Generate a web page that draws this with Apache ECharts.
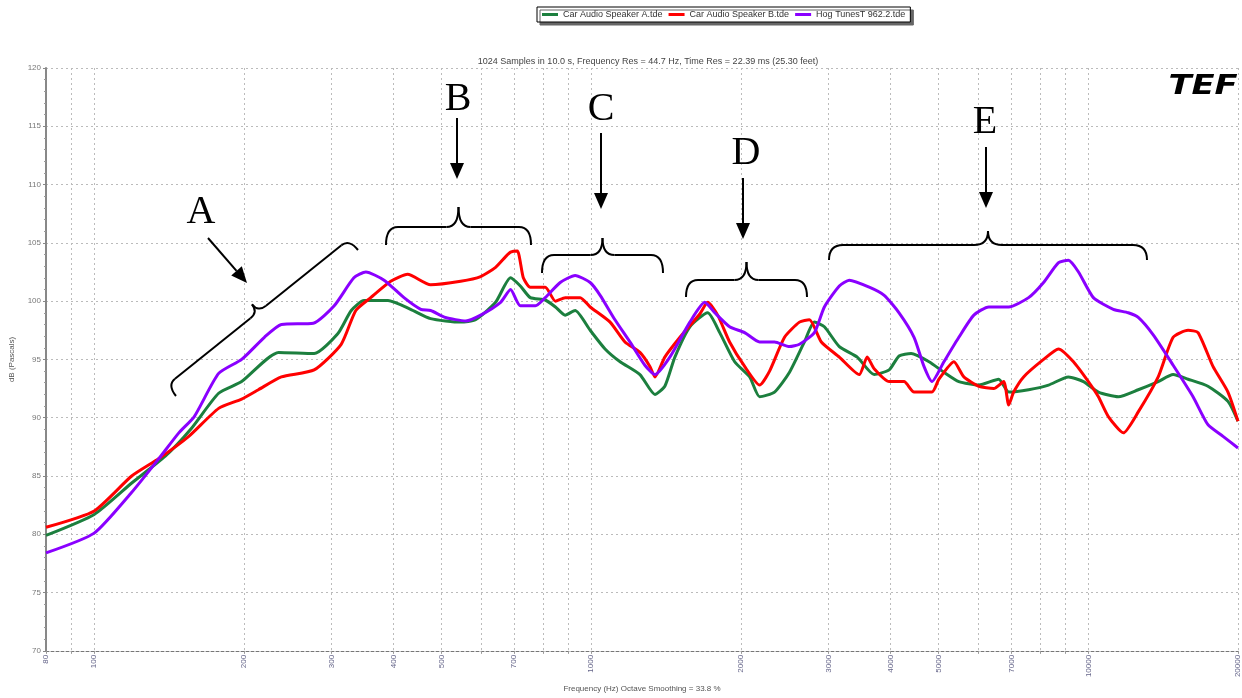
<!DOCTYPE html>
<html>
<head>
<meta charset="utf-8">
<script src="https://cdn.jsdelivr.net/npm/echarts@6/dist/echarts.min.js"></script>
<style>
  html, body { margin: 0; padding: 0; background: #fff; }
  #chart { width: 1242px; height: 698px; }
</style>
</head>
<body>
<div id="chart"></div>
<script>
// frequency (Hz), level (dB)
var speakerA = [[80,79.9],[100,81.7],[119,84.4],[139,86.7],[157,89.1],[178,92.1],[198,93.1],[235,95.6],[277,95.5],[309,97.2],[329,99.2],[349,100.05],[390,100.05],[433,99.3],[475,98.5],[546,98.2],[585,98.4],[642,99.9],[688,102.0],[720,101.3],[754,100.3],[808,100.1],[847,99.5],[886,98.8],[928,99.2],[995,97.5],[1066,95.9],[1143,94.8],[1253,93.7],[1343,92.0],[1406,92.7],[1473,95.2],[1579,97.8],[1715,99.0],[1813,97.3],[1943,94.8],[2083,93.5],[2181,91.8],[2337,92.2],[2505,93.9],[2684,96.5],[2811,98.2],[2944,97.8],[3155,96.1],[3428,95.2],[3708,93.7],[3974,94.1],[4161,95.3],[4400,95.5],[4780,94.8],[5122,93.9],[5489,93.1],[6019,92.8],[6601,93.3],[6914,92.2],[7582,92.4],[8315,92.8],[9120,93.5],[9774,93.1],[10476,92.2],[11490,91.8],[12600,92.4],[13820,93.1],[14810,93.7],[15870,93.3],[17400,92.7],[19090,91.4],[20000,89.7]];
var speakerB = [[80,80.6],[100,82.0],[119,85.0],[135,86.5],[155,88.4],[178,90.8],[198,91.6],[214,92.4],[238,93.5],[277,94.1],[314,96.3],[336,99.2],[360,100.3],[395,101.7],[427,102.3],[475,101.4],[546,101.7],[599,102.1],[642,102.9],[672,103.8],[688,104.2],[710,104.3],[730,102.0],[754,101.2],[808,101.2],[847,100.0],[886,100.3],[950,100.3],[995,99.5],[1091,98.2],[1169,96.5],[1253,95.6],[1312,94.4],[1343,93.5],[1406,95.2],[1508,96.9],[1653,98.9],[1715,99.9],[1796,98.8],[1898,96.5],[2035,94.4],[2181,92.8],[2284,94.0],[2448,96.9],[2623,98.2],[2747,98.4],[2903,96.5],[3155,95.2],[3459,93.7],[3590,95.2],[3708,94.2],[3974,93.1],[4258,93.1],[4460,92.2],[4846,92.2],[5005,93.3],[5364,94.8],[5617,93.5],[6019,92.7],[6451,92.5],[6755,93.1],[6914,91.1],[7075,92.2],[7409,93.5],[8126,95.0],[8710,95.9],[9333,94.8],[10000,93.1],[10476,91.8],[10970,90.1],[11758,88.7],[12600,90.5],[13820,93.5],[14810,96.9],[15870,97.5],[16620,97.3],[17810,94.4],[19090,92.2],[20000,89.7]];
var hogTunes = [[80,78.4],[100,80.1],[119,83.6],[135,86.5],[148,88.7],[159,90.1],[178,93.8],[198,95.0],[220,96.9],[238,98.0],[276,98.1],[304,99.6],[333,102.0],[352,102.5],[383,101.8],[420,100.3],[454,99.3],[475,99.2],[509,98.6],[559,98.3],[599,98.8],[657,99.9],[688,101.0],[720,99.6],[772,99.6],[808,100.3],[866,101.6],[928,102.2],[995,101.6],[1042,100.5],[1116,98.4],[1196,96.5],[1282,94.5],[1343,93.7],[1439,95.2],[1579,98.2],[1692,99.9],[1772,99.0],[1898,97.8],[2035,97.3],[2181,96.5],[2337,96.5],[2505,96.1],[2623,96.3],[2811,97.3],[2944,99.5],[3155,101.3],[3304,101.8],[3624,101.2],[3884,100.5],[4161,99.0],[4460,96.9],[4670,94.4],[4846,93.1],[5122,94.8],[5489,96.9],[5883,98.8],[6305,99.5],[6914,99.5],[7582,100.3],[8126,101.6],[8710,103.3],[9120,103.5],[9553,102.5],[10235,100.3],[11226,99.3],[12033,99.0],[12600,98.6],[13505,97.1],[14810,94.5],[16240,91.8],[17400,89.4],[18660,88.4],[20000,87.4]];

var seriesNames = ['Car Audio Speaker A.tde', 'Car Audio Speaker B.tde', 'Hog TunesT 962.2.tde'];
var gridFreqs = [80,90,100,200,300,400,500,600,700,800,900,1000,2000,3000,4000,5000,6000,7000,8000,9000,10000,20000];
var labelFreqs = [80,100,200,300,400,500,700,1000,2000,3000,4000,5000,7000,10000,20000];
var letters = ['A','B','C','D','E'];

var ec = echarts.init(document.getElementById('chart'));

// curly brace between two points, tip on the left-hand normal
function brace(x1, y1, x2, y2, h, d, r) {
  var L = Math.hypot(x2 - x1, y2 - y1);
  var ux = (x2 - x1) / L, uy = (y2 - y1) / L;
  var nx = uy, ny = -ux;
  var P = function (s, t) { return [x1 + ux * s + nx * t, y1 + uy * s + ny * t]; };
  var st = { stroke: '#000', fill: null, lineWidth: 2 };
  function q(a, c, b) {
    return { type: 'bezierCurve', shape: { x1: a[0], y1: a[1], cpx1: c[0], cpy1: c[1], x2: b[0], y2: b[1] }, style: st, z: 100 };
  }
  function ln(a, b) {
    return { type: 'line', shape: { x1: a[0], y1: a[1], x2: b[0], y2: b[1] }, style: st, z: 100 };
  }
  var m = L / 2;
  return [
    q(P(0, 0), P(0, h), P(r, h)),
    ln(P(r, h), P(m - r, h)),
    q(P(m - r, h), P(m, h), P(m, d)),
    q(P(m, d), P(m, h), P(m + r, h)),
    ln(P(m + r, h), P(L - r, h)),
    q(P(L - r, h), P(L, h), P(L, 0))
  ];
}

function arrow(x1, y1, x2, y2) {
  var L = Math.hypot(x2 - x1, y2 - y1);
  var ux = (x2 - x1) / L, uy = (y2 - y1) / L;
  var hl = 16, hw = 7;
  var bx = x2 - ux * hl, by = y2 - uy * hl;
  return [
    { type: 'line', shape: { x1: x1, y1: y1, x2: bx, y2: by }, style: { stroke: '#000', lineWidth: 2 }, z: 100 },
    { type: 'polygon', shape: { points: [[x2, y2], [bx + uy * hw, by - ux * hw], [bx - uy * hw, by + ux * hw]] }, style: { fill: '#000' }, z: 100 }
  ];
}

var letterPos = [[201, 212], [458, 99], [601, 109], [746, 153], [985, 122]];
var graphics = [];
letters.forEach(function (t, i) {
  graphics.push({
    type: 'text', x: letterPos[i][0], y: letterPos[i][1], z: 100,
    style: { text: t, font: '40px "Liberation Serif"', fill: '#000', textAlign: 'center', textVerticalAlign: 'middle' }
  });
});
graphics = graphics
  .concat(arrow(208, 238, 247, 283))
  .concat(arrow(457, 118, 457, 179))
  .concat(arrow(601, 133, 601, 209))
  .concat(arrow(743, 178, 743, 239))
  .concat(arrow(986, 147, 986, 208))
  .concat(brace(176, 396, 358, 250, 14, 24, 10))
  .concat(brace(386, 245, 531, 245, 18, 38, 12))
  .concat(brace(542, 273, 663, 273, 18, 35, 12))
  .concat(brace(686, 297, 807, 297, 17, 35, 12))
  .concat(brace(829, 260, 1147, 260, 15, 29, 14));
graphics.push({
  type: 'text', x: 1203, y: 87, z: 100,
  style: { text: 'TEF', font: 'italic 900 26px "DejaVu Sans"', fill: '#000', textAlign: 'center', textVerticalAlign: 'middle' },
  scaleX: 1.3
});

var colors = ['#1c7f3e', '#ff0000', '#8a00ff'];
var datasets = [speakerA, speakerB, hogTunes];

var option = {
  backgroundColor: '#fff',
  animation: false,
  textStyle: { fontFamily: '"Liberation Sans", Arial, sans-serif' },
  title: {
    text: '1024 Samples in 10.0 s, Frequency Res = 44.7 Hz, Time Res = 22.39 ms (25.30 feet)',
    left: 643, top: 52, textAlign: 'center',
    textStyle: { fontSize: 9, fontWeight: 'normal', color: '#444' }
  },
  legend: {
    data: seriesNames,
    left: 537, top: 7,
    padding: [3, 5],
    itemGap: 6,
    itemWidth: 16, itemHeight: 3,
    icon: 'rect',
    backgroundColor: '#fff',
    borderColor: '#000', borderWidth: 1,
    shadowColor: '#666', shadowOffsetX: 3, shadowOffsetY: 3, shadowBlur: 0,
    textStyle: { fontSize: 9, color: '#333', padding: [0, 0, 0, 0] }
  },
  grid: { left: 44, right: 2, top: 68, bottom: 41 },
  xAxis: {
    type: 'log', logBase: 10, min: 80, max: 20000,
    name: 'Frequency (Hz) Octave Smoothing = 33.8 %',
    nameLocation: 'middle', nameGap: 30,
    nameTextStyle: { fontSize: 8, color: '#555' },
    axisLine: { show: true, lineStyle: { color: '#777', type: [3, 2] } },
    axisTick: { show: true, customValues: gridFreqs, length: 3, lineStyle: { color: '#999' } },
    axisLabel: {
      customValues: labelFreqs, rotate: 90, fontSize: 8, color: '#66668a', margin: 4,
      formatter: function (v) { return String(Math.round(v)); }
    },
    splitLine: { show: true, lineStyle: { color: '#bbb', type: [2, 3] } }
  },
  yAxis: {
    type: 'value', min: 70, max: 120, interval: 5,
    name: 'dB (Pascals)', nameLocation: 'middle', nameGap: 30,
    nameTextStyle: { fontSize: 8, color: '#555' },
    axisLine: { show: true, lineStyle: { color: '#888', width: 2 } },
    axisTick: { show: true, length: 3, lineStyle: { color: '#888' } },
    minorTick: { show: true, splitNumber: 5, length: 2, lineStyle: { color: '#999' } },
    axisLabel: { fontSize: 8, color: '#777', margin: 5 },
    splitLine: { show: true, lineStyle: { color: '#bbb', type: [2, 3] } }
  },
  series: seriesNames.map(function (n, i) {
    return {
      name: n, type: 'line', data: datasets[i],
      showSymbol: false, smooth: 0.2,
      lineStyle: { width: 3, color: colors[i] },
      itemStyle: { color: colors[i] }
    };
  }),
  graphic: graphics
};
ec.setOption(option);
</script>
</body>
</html>
